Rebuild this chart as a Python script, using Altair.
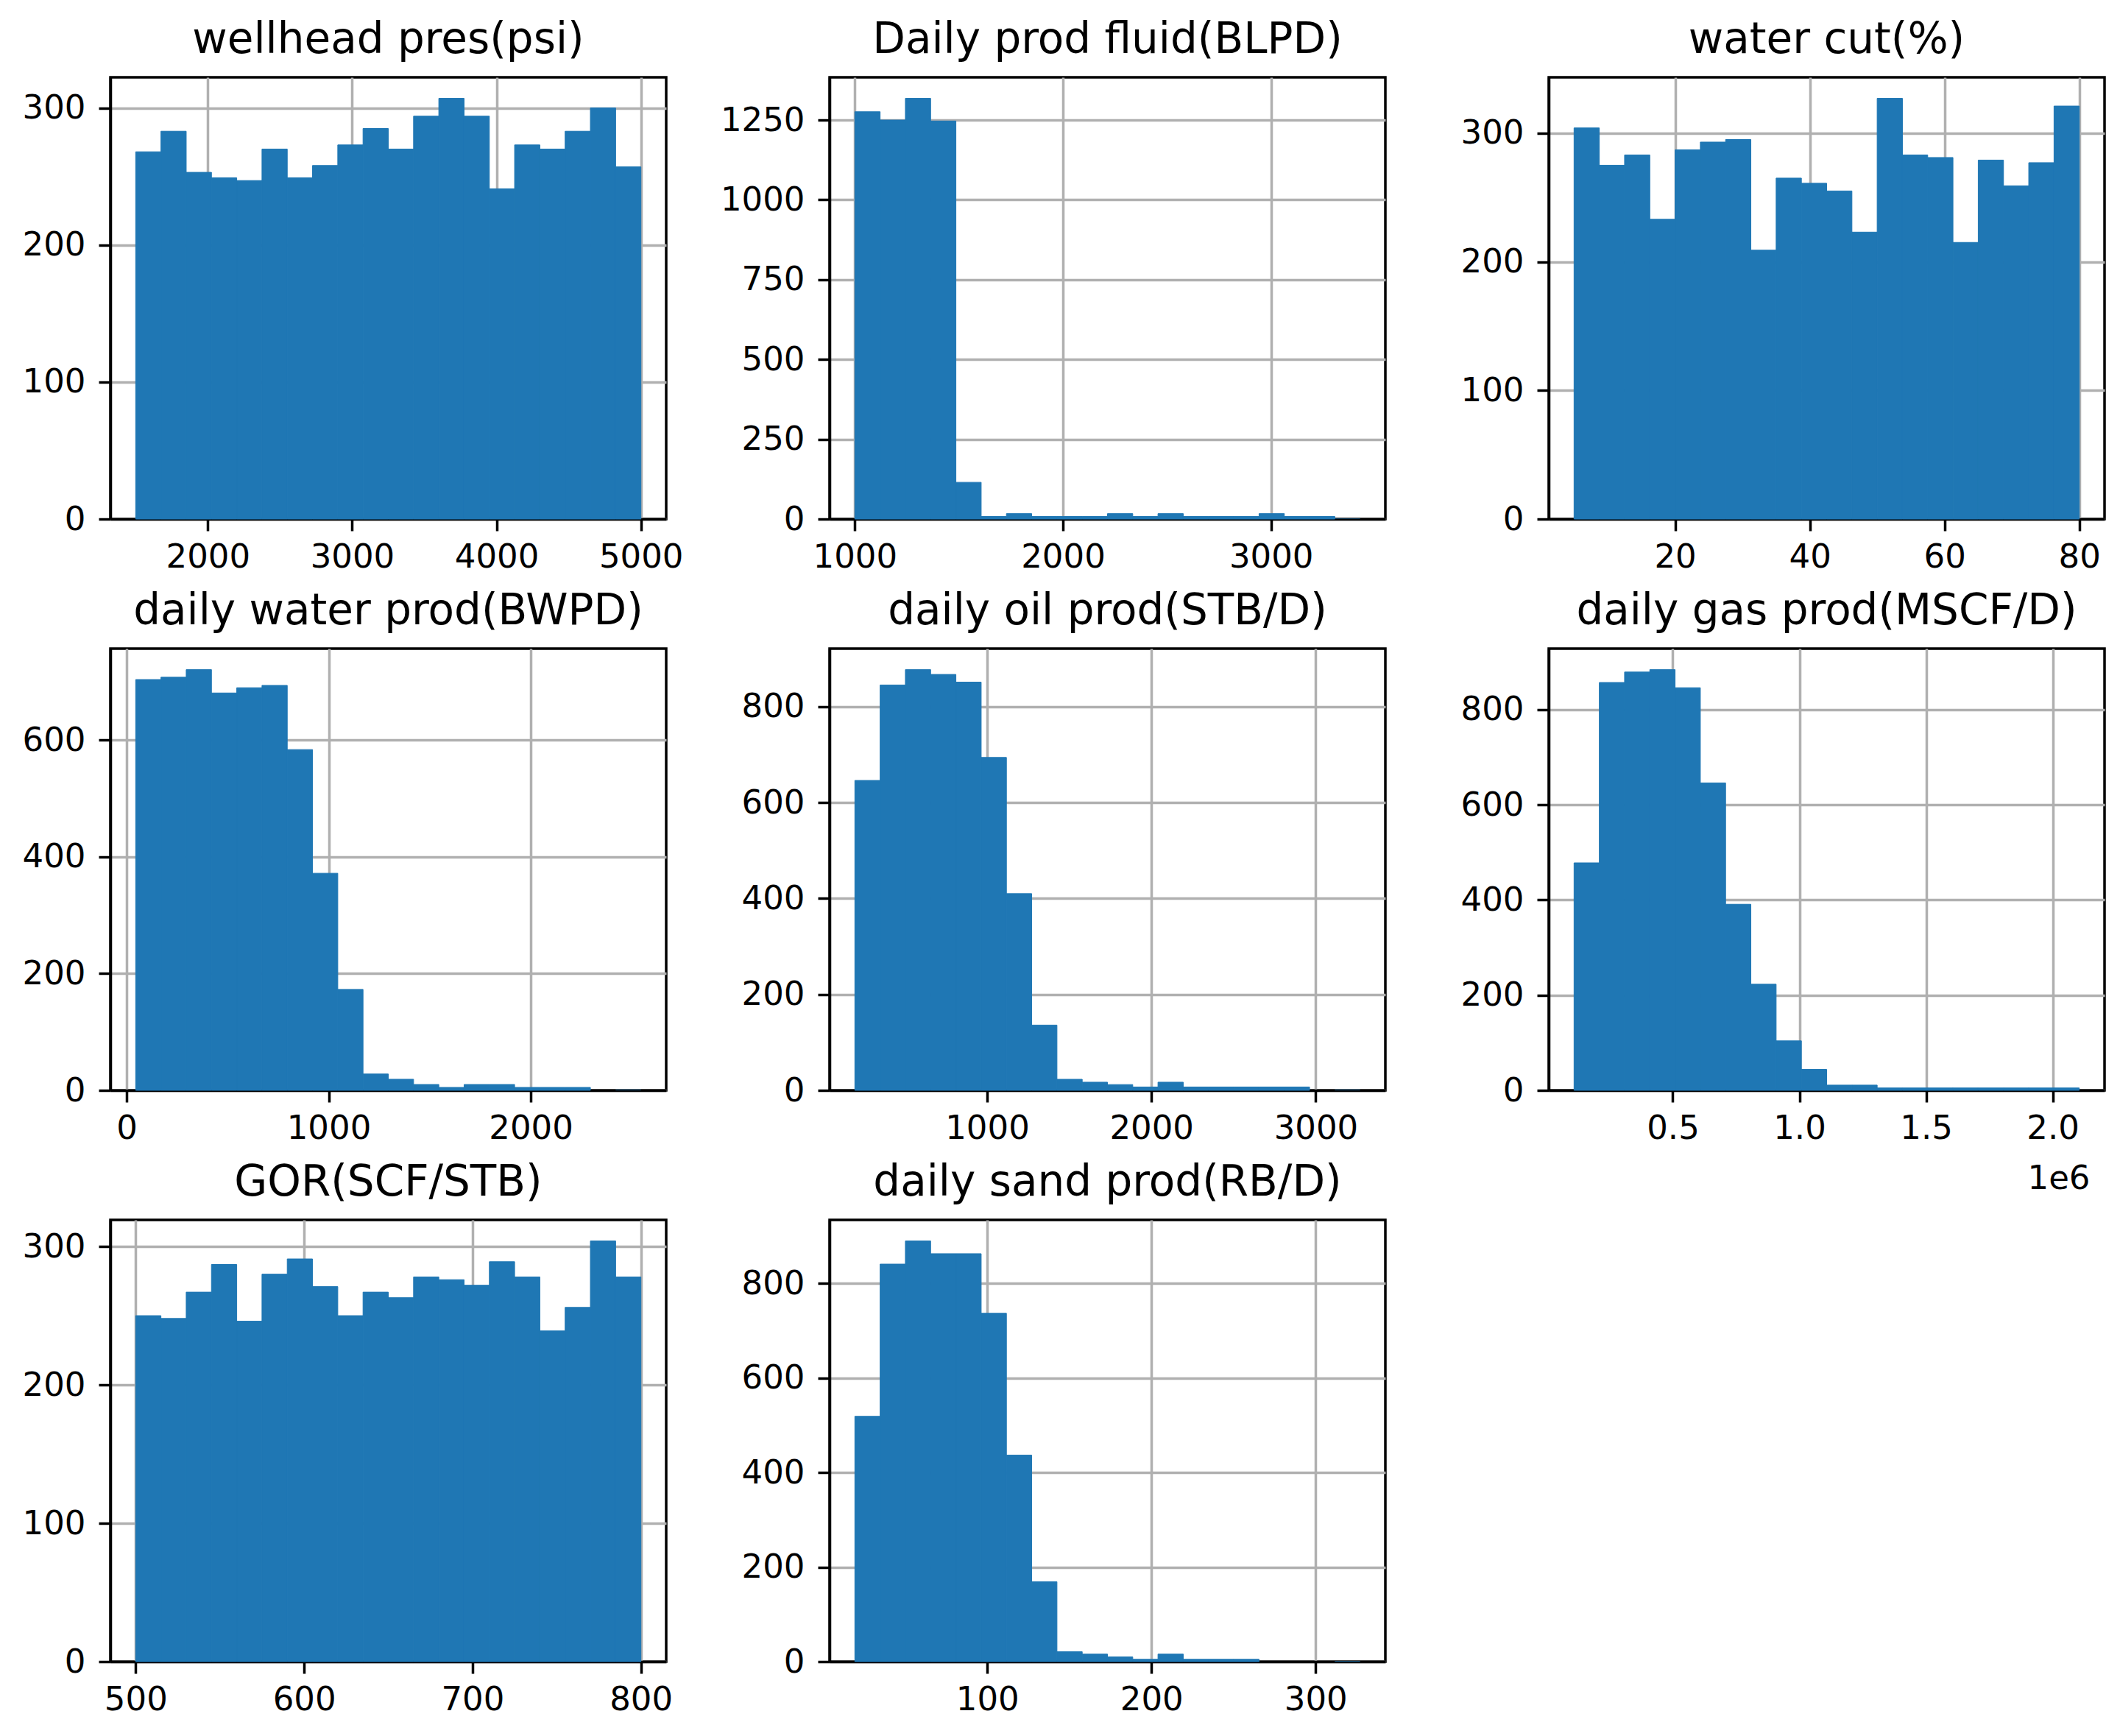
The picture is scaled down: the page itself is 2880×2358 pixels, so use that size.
import altair as alt
import pandas as pd

FONT = "DejaVu Sans"
BLUE = "#1f77b4"

# ---- data (20 equal-width bins per column) ----
titles = [
    "wellhead pres(psi)", "Daily prod fluid(BLPD)", "water cut(%)",
    "daily water prod(BWPD)", "daily oil prod(STB/D)", "daily gas prod(MSCF/D)",
    "GOR(SCF/STB)", "daily sand prod(RB/D)",
]

wellhead_range = [1500, 5000]
wellhead_counts = [268, 283, 253, 249, 247, 270, 249, 258, 273, 285,
                   270, 294, 307, 294, 241, 273, 270, 283, 300, 257]

fluid_range = [1000, 3428]
fluid_counts = [1276, 1250, 1318, 1247, 115, 8, 17, 8, 8, 8,
                17, 8, 17, 8, 8, 8, 17, 8, 8, 1]

watercut_range = [5, 80]
watercut_counts = [304, 275, 283, 233, 287, 293, 295, 209, 265, 261,
                   255, 223, 327, 283, 281, 215, 279, 259, 277, 321]

water_range = [45, 2545]
water_counts = [704, 708, 721, 681, 690, 694, 584, 372, 173, 28,
                19, 10, 5, 10, 10, 5, 5, 5, 0, 1]

oil_range = [195, 3270]
oil_counts = [646, 845, 877, 867, 851, 694, 410, 136, 23, 17,
              12, 7, 17, 7, 7, 7, 7, 7, 0, 1]

gas_range = [110000, 2105000]
gas_counts = [478, 857, 879, 884, 846, 646, 391, 223, 104, 44,
              11, 11, 5, 5, 5, 5, 5, 5, 5, 5]

gor_range = [500, 800]
gor_counts = [250, 248, 267, 287, 246, 280, 291, 271, 250, 267,
              263, 278, 276, 272, 289, 278, 239, 256, 304, 278]

sand_range = [19.3, 327.1]
sand_counts = [519, 841, 890, 863, 863, 737, 437, 169, 21, 16,
               10, 5, 16, 5, 5, 5, 0, 0, 0, 1]

x_ticks = [
    [2000, 3000, 4000, 5000],
    [1000, 2000, 3000],
    [20, 40, 60, 80],
    [0, 1000, 2000],
    [1000, 2000, 3000],
    [500000, 1000000, 1500000, 2000000],
    [500, 600, 700, 800],
    [100, 200, 300],
]
y_ticks = [
    [0, 100, 200, 300],
    [0, 250, 500, 750, 1000, 1250],
    [0, 100, 200, 300],
    [0, 200, 400, 600],
    [0, 200, 400, 600, 800],
    [0, 200, 400, 600, 800],
    [0, 100, 200, 300],
    [0, 200, 400, 600, 800],
]

ranges = [wellhead_range, fluid_range, watercut_range, water_range,
          oil_range, gas_range, gor_range, sand_range]
counts_all = [wellhead_counts, fluid_counts, watercut_counts, water_counts,
              oil_counts, gas_counts, gor_counts, sand_counts]

W, H = 755, 600


def panel(i):
    lo, hi = ranges[i]
    counts = counts_all[i]
    n = len(counts)
    step = (hi - lo) / n
    df = pd.DataFrame({
        "left": [lo + k * step for k in range(n)],
        "right": [lo + (k + 1) * step for k in range(n)],
        "count": counts,
        "base": [0] * n,
    })
    span = hi - lo
    xdom = [lo - 0.05 * span, hi + 0.05 * span]
    ydom = [0, max(counts) * 1.05]

    if i == 5:
        xaxis = alt.Axis(values=x_ticks[i], grid=True, title="1e6",
                         labelExpr="format(datum.value / 1000000, '.1f')",
                         titleAnchor="end", titleAlign="right",
                         titleBaseline="top", titleX=W - 20, titleY=97)
    else:
        xaxis = alt.Axis(values=x_ticks[i], format="d", grid=True, title=None)
    yaxis = alt.Axis(values=y_ticks[i], format="d", grid=True, title=None)

    return alt.Chart(df).mark_rect(color=BLUE, stroke=BLUE).encode(
        x=alt.X("left:Q", scale=alt.Scale(domain=xdom, nice=False, zero=False), axis=xaxis),
        x2="right:Q",
        y=alt.Y("count:Q", scale=alt.Scale(domain=ydom, nice=False), axis=yaxis),
        y2="base:Q",
        strokeWidth=alt.condition(alt.datum.count > 2, alt.value(1), alt.value(0)),
    ).properties(width=W, height=H, title=titles[i])


charts = [panel(i) for i in range(8)]

chart = alt.concat(
    *charts, columns=3, bounds="flush",
    spacing=alt.RowColnumber(row=176, column=222),
).properties(
    padding={"left": 20, "top": 16, "right": 5, "bottom": 5},
    background="white",
).configure_view(
    stroke="black", strokeWidth=3.5,
).configure_axis(
    labelFont=FONT, labelFontSize=45, labelColor="black",
    tickColor="black", tickWidth=3.5, tickSize=16,
    domainColor="black", domainWidth=3.5,
    gridColor="#b0b0b0", gridWidth=3.5,
    labelFlush=False, labelOverlap=False, zindex=1,
    titleFont=FONT, titleFontSize=45, titleColor="black", titleFontWeight="normal",
).configure_axisX(
    labelPadding=13,
).configure_axisY(
    labelPadding=18,
).configure_title(
    font=FONT, fontSize=58, fontWeight="normal", color="black",
    offset=21, baseline="alphabetic", anchor="middle", frame="group",
)

chart.save("out.html", embed_options={"renderer": "svg", "actions": False})
